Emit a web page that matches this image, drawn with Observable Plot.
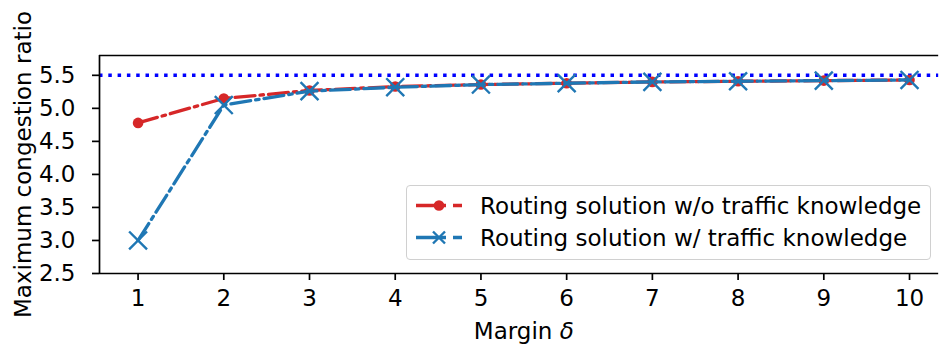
<!DOCTYPE html>
<html>
<head>
<meta charset="utf-8">
<script src="https://cdn.jsdelivr.net/npm/d3@7"></script>
<script src="https://cdn.jsdelivr.net/npm/@observablehq/plot@0.6"></script>
<style>
  html, body { margin: 0; padding: 0; background: white; overflow: hidden; }
  #wrap { position: relative; width: 939px; height: 349px; overflow: hidden; }
  #legend {
    position: absolute; left: 406px; top: 185px;
    border: 1.5px solid #d0d0d0; border-radius: 4px;
    background: rgba(255,255,255,0.8);
    padding: 8px 9px 10px 9px;
    font-family: "DejaVu Sans", sans-serif; font-size: 23px; color: black;
    display: flex; flex-direction: column; gap: 9px;
  }
  #legend .row { display: flex; align-items: center; height: 23px; white-space: nowrap; }
  #legend svg { flex: none; margin-right: 18px; }
</style>
</head>
<body>
<div id="wrap"></div>
<script>
// ---- data ----
const margins = [1, 2, 3, 4, 5, 6, 7, 8, 9, 10];
const withoutKnowledge = [4.78, 5.15, 5.27, 5.33, 5.36, 5.38, 5.40, 5.41, 5.42, 5.43];
const withKnowledge = [3.00, 5.05, 5.26, 5.32, 5.36, 5.38, 5.40, 5.41, 5.42, 5.43];
const threshold = [5.5];
const xTicks = [1, 2, 3, 4, 5, 6, 7, 8, 9, 10];
const yTicks = [2.5, 3.0, 3.5, 4.0, 4.5, 5.0, 5.5];
const xDomain = [0.55, 10.45];
const xVisibleEnd = 10.34; // right edge of the picture (the axes box continues beyond it)
const yDomain = [2.5, 5.8];
const seriesNames = ["Routing solution w/o traffic knowledge", "Routing solution w/ traffic knowledge"];
const xLabel = "Margin δ";
const yLabel = "Maximum congestion ratio";

const RED = "#d62728", BLUE = "#1f77b4";
const redRows = margins.map((m, i) => ({m, v: withoutKnowledge[i]}));
const blueRows = margins.map((m, i) => ({m, v: withKnowledge[i]}));

const chart = Plot.plot({
  width: 939, height: 349,
  marginLeft: 99, marginRight: 0, marginTop: 55, marginBottom: 76,
  x: {domain: xDomain, range: [99, 947.6]},
  y: {domain: yDomain},
  style: {fontFamily: "DejaVu Sans, sans-serif", fontSize: "23px", color: "black", background: "white", overflow: "hidden"},
  marks: [
    Plot.axisX({ticks: xTicks, tickSize: 7, tickPadding: 9, strokeWidth: 1.7, label: null, fontSize: 23, tickFormat: d3.format("d")}),
    Plot.axisY({ticks: yTicks, tickSize: 7, tickPadding: 17, strokeWidth: 1.7, label: null, fontSize: 23, tickFormat: d3.format(".1f")}),
    Plot.ruleY(threshold, {x1: xDomain[0], x2: xVisibleEnd, stroke: "#0000ff", strokeWidth: 3.5, strokeDasharray: "3.5,5.8"}),
    Plot.line(redRows, {x: "m", y: "v", stroke: RED, strokeWidth: 3.3, strokeDasharray: "20,5,3.5,5"}),
    Plot.dot(redRows, {x: "m", y: "v", r: 5.3, fill: RED, stroke: "none"}),
    Plot.line(blueRows, {x: "m", y: "v", stroke: BLUE, strokeWidth: 3.3, strokeDasharray: "20,5,3.5,5"}),
    Plot.dot(blueRows, {x: "m", y: "v", r: 8.2, symbol: "times", stroke: BLUE, strokeWidth: 2.4}),
    Plot.ruleX([xDomain[0]], {stroke: "black", strokeWidth: 1.7}),
    Plot.ruleY(yDomain, {x1: xDomain[0], x2: xVisibleEnd, stroke: "black", strokeWidth: 1.7}),
    Plot.text([xLabel], {text: d => d, x: () => (xDomain[0] + xDomain[1]) / 2, frameAnchor: "bottom", textAnchor: "middle", dy: 65, lineAnchor: "bottom", fontSize: 23, fill: "black"}),
    Plot.text([yLabel], {text: d => d, frameAnchor: "left", textAnchor: "middle", dx: -76, rotate: -90, fontSize: 23, fill: "black"})
  ]
});
document.getElementById("wrap").appendChild(chart);

d3.select(chart).selectAll("text").each(function() {
  if (this.textContent === xLabel) {
    const t = d3.select(this);
    t.text("Margin ");
    t.append("tspan").attr("font-style", "italic").text("δ");
  }
});

const legend = document.createElement("div");
legend.id = "legend";
const markers = [
  `<circle cx="23" cy="11.5" r="5.3" fill="${RED}"/>`,
  `<path d="M17,5.5L29,17.5M17,17.5L29,5.5" stroke="${BLUE}" stroke-width="2.4"/>`
];
const colors = [RED, BLUE];
seriesNames.forEach((name, i) => {
  const row = document.createElement("div");
  row.className = "row";
  row.innerHTML = `<svg width="46" height="23"><line x1="0" x2="46" y1="11.5" y2="11.5" stroke="${colors[i]}" stroke-width="3.3" stroke-dasharray="30,7,20"/>${markers[i]}</svg><span>${name}</span>`;
  legend.appendChild(row);
});
document.getElementById("wrap").appendChild(legend);
</script>
</body>
</html>
